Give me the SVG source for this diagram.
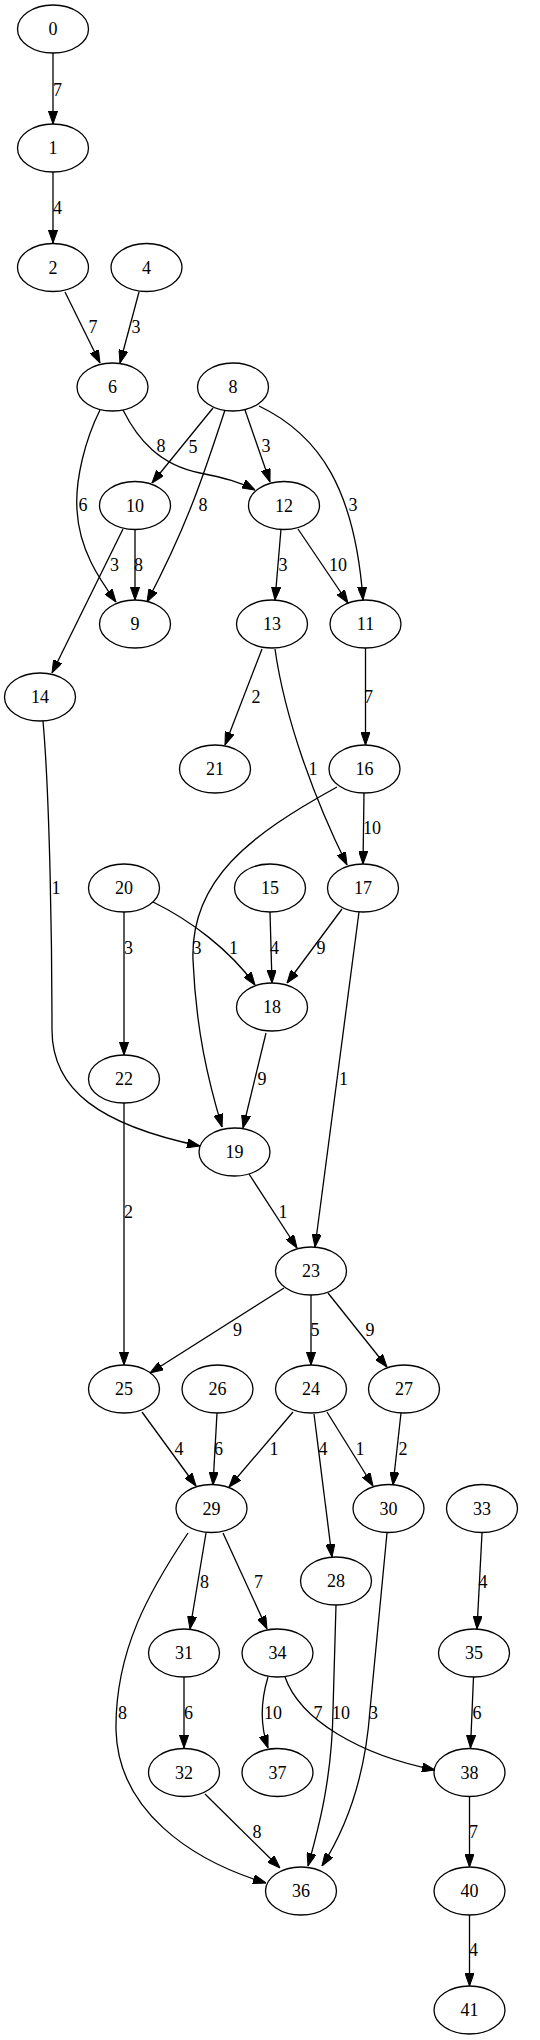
<svg xmlns="http://www.w3.org/2000/svg" width="540" height="2040" viewBox="0 0 540 2040">
<style>
.n ellipse{fill:none;stroke:#000;stroke-width:1.3}
.n text{font-family:"Liberation Serif","Times New Roman",serif;font-size:18px;text-anchor:middle;fill:#000}
#edges path{fill:none;stroke:#000;stroke-width:1.3;marker-end:url(#ah)}
#edges text{font-family:"Liberation Serif","Times New Roman",serif;font-size:18px;text-anchor:middle;fill:#000}
</style>
<defs>
<marker id="ah" markerUnits="userSpaceOnUse" viewBox="0 0 13 9.2" refX="13" refY="4.6" markerWidth="13" markerHeight="9.2" orient="auto">
<path d="M0,0 L13,4.6 L0,9.2 z" fill="#000" stroke="#000" stroke-width="1"/>
</marker>
</defs>
<rect width="540" height="2040" fill="#fff"/>
<g id="edges">
<path d="M53,53 L53,124"/><text x="57.5" y="96">7</text>
<path d="M53,172 L53,243"/><text x="57.5" y="214">4</text>
<path d="M65,292 L100,363"/><text x="93" y="333">7</text>
<path d="M139,292 L120,363"/><text x="136" y="333">3</text>
<path d="M100,410 C85,440 75,480 77,510 C79,550 100,580 116,602"/><text x="83" y="511">6</text>
<path d="M123,410 C138,440 160,465 200,473 C225,478 240,482 255,490"/><text x="161" y="452">8</text>
<path d="M213,408 L152,483"/><text x="193" y="453">5</text>
<path d="M225,410 C205,470 190,520 147,602"/><text x="203" y="511">8</text>
<path d="M245,410 L270,482"/><text x="266" y="452">3</text>
<path d="M259,406 C320,435 355,490 363,600"/><text x="353" y="511">3</text>
<path d="M135,529 L135,600"/><text x="138.5" y="571">8</text>
<path d="M123,529 L52,673"/><text x="114.5" y="571">3</text>
<path d="M281,529 L275,600"/><text x="283" y="571">3</text>
<path d="M298,529 L348,603"/><text x="338" y="571">10</text>
<path d="M262,649 L225,745"/><text x="256" y="703">2</text>
<path d="M275,649 C285,720 315,800 347,865"/><text x="313" y="775">1</text>
<path d="M365.5,648 L365.5,745"/><text x="368.5" y="703">7</text>
<path d="M364,793 L363,864"/><text x="372" y="834">10</text>
<path d="M337,787 C250,835 190,880 193,960 C196,1030 208,1080 222,1127"/><text x="197" y="954">3</text>
<path d="M342,909 L287,983"/><text x="321" y="954">9</text>
<path d="M359,912 L315,1247"/><text x="343.5" y="1085">1</text>
<path d="M153,902 C190,920 230,950 255,985"/><text x="233.5" y="954">1</text>
<path d="M270,912 L272,983"/><text x="274.5" y="954">4</text>
<path d="M124,912 L124,1055"/><text x="128.5" y="954">3</text>
<path d="M266,1033 L243,1128"/><text x="262" y="1085">9</text>
<path d="M43,721 C50,800 52,950 52,1030 C52,1090 100,1125 200,1146"/><text x="56" y="894">1</text>
<path d="M124,1103 L124,1365"/><text x="128.5" y="1218">2</text>
<path d="M249,1174 L297,1248"/><text x="283" y="1218">1</text>
<path d="M284,1288 L150,1373"/><text x="237.5" y="1336">9</text>
<path d="M311,1295 L311,1365"/><text x="315" y="1336">5</text>
<path d="M328,1293 L387,1367"/><text x="370" y="1336">9</text>
<path d="M142,1412 L196,1486"/><text x="179" y="1455">4</text>
<path d="M217,1413 L213,1485"/><text x="218.5" y="1455">6</text>
<path d="M293,1412 L229,1487"/><text x="274" y="1455">1</text>
<path d="M314,1414 L332,1557"/><text x="323" y="1455">4</text>
<path d="M327,1412 L373,1486"/><text x="360" y="1455">1</text>
<path d="M401,1413 L393,1485"/><text x="403" y="1455">2</text>
<path d="M188,1533 C150,1590 115,1650 116,1730 C118,1810 190,1860 266,1883"/><text x="122.5" y="1719">8</text>
<path d="M206,1533 L190,1629"/><text x="204.5" y="1588">8</text>
<path d="M223,1533 L267,1629"/><text x="258.5" y="1588">7</text>
<path d="M336,1605 L333,1710 C332,1780 318,1830 308,1866"/><text x="341" y="1719">10</text>
<path d="M387,1533 L370,1710 C365,1780 345,1830 322,1866"/><text x="373.5" y="1719">3</text>
<path d="M482,1533 L477,1629"/><text x="483" y="1588">4</text>
<path d="M473.5,1677 L470.5,1748"/><text x="477" y="1719">6</text>
<path d="M268,1677 C261,1700 260,1725 268,1748"/><text x="273" y="1719">10</text>
<path d="M285,1677 C300,1720 360,1755 435,1770"/><text x="318" y="1719">7</text>
<path d="M184,1677 L184,1748"/><text x="188.5" y="1719">6</text>
<path d="M205,1794 L280,1868"/><text x="257" y="1838">8</text>
<path d="M469.5,1796 L469.5,1867"/><text x="473.5" y="1838">7</text>
<path d="M469.5,1915 L469.5,1986"/><text x="473.5" y="1956">4</text>
</g>
<g id="n0" class="n"><ellipse cx="53" cy="29" rx="35.5" ry="24"/><text x="53" y="35">0</text></g>
<g id="n1" class="n"><ellipse cx="53" cy="148" rx="35.5" ry="24"/><text x="53" y="154">1</text></g>
<g id="n2" class="n"><ellipse cx="53" cy="267.5" rx="35.5" ry="24"/><text x="53" y="273.5">2</text></g>
<g id="n4" class="n"><ellipse cx="146.5" cy="267.5" rx="35.5" ry="24"/><text x="146.5" y="273.5">4</text></g>
<g id="n6" class="n"><ellipse cx="112.5" cy="387" rx="35.5" ry="24"/><text x="112.5" y="393">6</text></g>
<g id="n8" class="n"><ellipse cx="233" cy="387" rx="35.5" ry="24"/><text x="233" y="393">8</text></g>
<g id="n10" class="n"><ellipse cx="135" cy="505.5" rx="35.5" ry="24"/><text x="135" y="511.5">10</text></g>
<g id="n12" class="n"><ellipse cx="284" cy="505.5" rx="35.5" ry="24"/><text x="284" y="511.5">12</text></g>
<g id="n9" class="n"><ellipse cx="135" cy="624" rx="35.5" ry="24"/><text x="135" y="630">9</text></g>
<g id="n13" class="n"><ellipse cx="272" cy="624" rx="35.5" ry="24"/><text x="272" y="630">13</text></g>
<g id="n11" class="n"><ellipse cx="365.5" cy="624" rx="35.5" ry="24"/><text x="365.5" y="630">11</text></g>
<g id="n14" class="n"><ellipse cx="40" cy="697" rx="35.5" ry="24"/><text x="40" y="703">14</text></g>
<g id="n21" class="n"><ellipse cx="215" cy="769" rx="35.5" ry="24"/><text x="215" y="775">21</text></g>
<g id="n16" class="n"><ellipse cx="364.5" cy="769" rx="35.5" ry="24"/><text x="364.5" y="775">16</text></g>
<g id="n20" class="n"><ellipse cx="124" cy="888" rx="35.5" ry="24"/><text x="124" y="894">20</text></g>
<g id="n15" class="n"><ellipse cx="270" cy="888" rx="35.5" ry="24"/><text x="270" y="894">15</text></g>
<g id="n17" class="n"><ellipse cx="363" cy="888" rx="35.5" ry="24"/><text x="363" y="894">17</text></g>
<g id="n18" class="n"><ellipse cx="272" cy="1007" rx="35.5" ry="24"/><text x="272" y="1013">18</text></g>
<g id="n22" class="n"><ellipse cx="124" cy="1079" rx="35.5" ry="24"/><text x="124" y="1085">22</text></g>
<g id="n19" class="n"><ellipse cx="234.5" cy="1152" rx="35.5" ry="24"/><text x="234.5" y="1158">19</text></g>
<g id="n23" class="n"><ellipse cx="311" cy="1271" rx="35.5" ry="24"/><text x="311" y="1277">23</text></g>
<g id="n25" class="n"><ellipse cx="124" cy="1389" rx="35.5" ry="24"/><text x="124" y="1395">25</text></g>
<g id="n26" class="n"><ellipse cx="217.5" cy="1389" rx="35.5" ry="24"/><text x="217.5" y="1395">26</text></g>
<g id="n24" class="n"><ellipse cx="311" cy="1389" rx="35.5" ry="24"/><text x="311" y="1395">24</text></g>
<g id="n27" class="n"><ellipse cx="404" cy="1389" rx="35.5" ry="24"/><text x="404" y="1395">27</text></g>
<g id="n29" class="n"><ellipse cx="211.5" cy="1508.5" rx="35.5" ry="24"/><text x="211.5" y="1514.5">29</text></g>
<g id="n30" class="n"><ellipse cx="388.5" cy="1508.5" rx="35.5" ry="24"/><text x="388.5" y="1514.5">30</text></g>
<g id="n33" class="n"><ellipse cx="482" cy="1508.5" rx="35.5" ry="24"/><text x="482" y="1514.5">33</text></g>
<g id="n28" class="n"><ellipse cx="336" cy="1581" rx="35.5" ry="24"/><text x="336" y="1587">28</text></g>
<g id="n31" class="n"><ellipse cx="184" cy="1653" rx="35.5" ry="24"/><text x="184" y="1659">31</text></g>
<g id="n34" class="n"><ellipse cx="277.5" cy="1653" rx="35.5" ry="24"/><text x="277.5" y="1659">34</text></g>
<g id="n35" class="n"><ellipse cx="474" cy="1653" rx="35.5" ry="24"/><text x="474" y="1659">35</text></g>
<g id="n32" class="n"><ellipse cx="184" cy="1772.5" rx="35.5" ry="24"/><text x="184" y="1778.5">32</text></g>
<g id="n37" class="n"><ellipse cx="277.5" cy="1772.5" rx="35.5" ry="24"/><text x="277.5" y="1778.5">37</text></g>
<g id="n38" class="n"><ellipse cx="469.5" cy="1772.5" rx="35.5" ry="24"/><text x="469.5" y="1778.5">38</text></g>
<g id="n36" class="n"><ellipse cx="301" cy="1891" rx="35.5" ry="24"/><text x="301" y="1897">36</text></g>
<g id="n40" class="n"><ellipse cx="469.5" cy="1891" rx="35.5" ry="24"/><text x="469.5" y="1897">40</text></g>
<g id="n41" class="n"><ellipse cx="469.5" cy="2010" rx="35.5" ry="24"/><text x="469.5" y="2016">41</text></g>
</svg>
